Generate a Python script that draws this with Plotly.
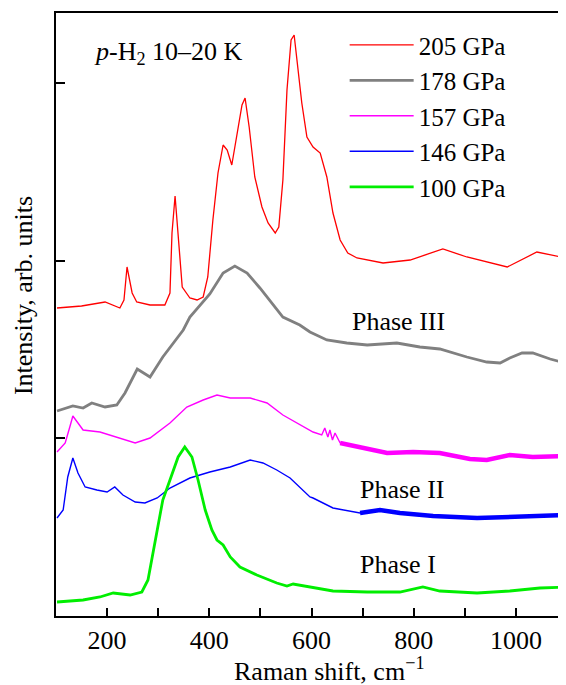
import plotly.graph_objects as go

FONT = "Liberation Serif"

# Raman shift (cm^-1) and offset intensity (arb. units)
x_205 = [102, 150, 196, 225, 233, 239, 249, 258, 284, 313, 323, 327, 333, 339, 347, 362, 376, 388, 397,
         407, 417, 427, 435, 444, 454, 464, 470, 478, 489, 503, 515, 529, 536, 544, 552,
         560, 566, 572, 581, 591, 603, 617, 630, 642, 656, 671, 689, 740, 793, 857, 904, 983, 1041, 1098]
y_205 = [308, 310, 314, 308, 316, 349, 323, 314, 311, 311, 323, 383, 420, 383, 329, 318, 316, 319, 339,
         396, 443, 471, 466, 451, 483, 511, 518, 489, 439, 409, 393, 383, 389, 436, 526,
         576, 581, 556, 513, 479, 469, 463, 439, 403, 376, 363, 358, 353, 356, 367, 359, 349, 364, 358]

x_178 = [102, 133, 153, 170, 196, 219, 235, 259, 284, 309, 349, 362, 401, 427, 450, 474, 499, 513, 544,
         577, 597, 630, 669, 709, 767, 812, 851, 904, 943, 969, 988, 1012, 1033, 1067, 1096]
y_178 = [205, 210, 208, 213, 209, 211, 223, 247, 239, 259, 286, 299, 322, 343, 350, 343, 328, 319, 299,
         291, 284, 276, 273, 271, 273, 269, 267, 259, 254, 253, 258, 263, 263, 257, 253]

x_157 = [102, 118, 127, 133, 143, 153, 186, 219, 255, 284, 323, 356, 388, 415, 441, 480, 513, 544, 572,
         603, 620, 626, 632, 636, 641, 646, 656, 689, 748, 799, 851, 910, 943, 988, 1033, 1096]
y_157 = [164, 173, 189, 200, 193, 186, 184, 179, 173, 178, 193, 209, 216, 221, 218, 218, 213, 201, 193,
         184, 181, 188, 179, 186, 176, 183, 173, 169, 163, 164, 163, 157, 156, 161, 159, 160]

x_146 = [102, 114, 123, 133, 143, 157, 180, 200, 215, 231, 255, 274, 298, 323, 362, 401, 441, 480, 505,
         532, 558, 583, 597, 603, 642, 695, 734, 773, 838, 924, 1002, 1096]
y_146 = [98, 106, 139, 158, 143, 129, 126, 124, 129, 121, 114, 113, 118, 128, 138, 144, 149, 156, 153,
         146, 138, 126, 119, 118, 108, 103, 106, 103, 100, 98, 99, 101]

x_100 = [102, 153, 186, 212, 245, 268, 280, 290, 300, 309, 323, 339, 352, 366, 378, 392, 405, 415,
         427, 441, 460, 493, 532, 552, 564, 597, 642, 709, 773, 818, 851, 924, 988, 1047, 1096]
y_100 = [14, 16, 19, 23, 21, 24, 36, 63, 93, 116, 136, 159, 169, 159, 136, 106, 86, 76,
         71, 59, 49, 41, 33, 30, 32, 29, 25, 24, 24, 29, 25, 23, 25, 28, 29]

series = [
    ("205 GPa", x_205, y_205, "#ff0000", 1.3, None),
    ("178 GPa", x_178, y_178, "#808080", 2.8, None),
    ("157 GPa", x_157, y_157, "#ff00ff", 1.4, 650),
    ("146 GPa", x_146, y_146, "#0000ff", 1.4, 660),
    ("100 GPa", x_100, y_100, "#00ee00", 2.8, None),
]

x_ticks = [200, 300, 400, 500, 600, 700, 800, 900, 1000]
x_tick_text = ["200", "", "400", "", "600", "", "800", "", "1000"]
y_ticks = [178, 355, 533]

fig = go.Figure()
for i, (name, xs, ys, color, w, thick_from) in enumerate(series):
    fig.add_trace(go.Scatter(x=xs, y=ys, mode="lines", name=name, legendgroup=name,
                             line=dict(color=color, width=w)))
    if thick_from is not None:
        xt = [a for a in xs if a >= thick_from]
        yt = [b for a, b in zip(xs, ys) if a >= thick_from]
        fig.add_trace(go.Scatter(x=xt, y=yt, mode="lines", showlegend=False, legendgroup=name,
                                 line=dict(color=color, width=4.5)))

# the page body has an 8 px margin, so the figure is drawn 8 px smaller and shifted
fig.update_layout(
    width=558, height=677,
    margin=dict(l=48, r=0, t=5, b=69, autoexpand=False),
    paper_bgcolor="white", plot_bgcolor="white",
    font=dict(family=FONT, size=26, color="black"),
    showlegend=True,
    legend=dict(x=0.566, y=0.985, xanchor="left", yanchor="top", bgcolor="rgba(0,0,0,0)",
                font=dict(family=FONT, size=25, color="black"), tracegroupgap=0,
                itemwidth=64),
    xaxis=dict(range=[100, 1098], tickmode="array", tickvals=x_ticks, ticktext=x_tick_text,
               ticks="inside", ticklen=8, tickwidth=1.5, tickcolor="black",
               showline=True, linewidth=2, linecolor="black", mirror=True,
               showgrid=False, zeroline=False, automargin=False,
               tickfont=dict(family=FONT, size=26, color="black")),
    yaxis=dict(range=[0, 603], tickmode="array", tickvals=y_ticks, showticklabels=False,
               ticks="inside", ticklen=9, tickwidth=1.5, tickcolor="black",
               showline=True, linewidth=2, linecolor="black", mirror=False,
               showgrid=False, zeroline=False, automargin=False),
    annotations=[
        dict(text="Raman shift, cm<sup>−1</sup>", xref="paper", yref="paper", x=0.537, y=-0.088,
             xanchor="center", yanchor="middle", showarrow=False, borderpad=0),
        dict(text="Intensity, arb. units", xref="paper", yref="paper", x=-0.065, y=0.532,
             xanchor="center", yanchor="middle", textangle=-90, showarrow=False),
        dict(text="<i>p</i>-H<sub>2</sub> 10–20 K", xref="paper", yref="paper", x=0.07, y=0.934,
             xanchor="left", yanchor="middle", showarrow=False),
        dict(text="Phase III", xref="paper", yref="paper", x=0.576, y=0.489,
             xanchor="left", yanchor="middle", showarrow=False),
        dict(text="Phase II", xref="paper", yref="paper", x=0.592, y=0.209,
             xanchor="left", yanchor="middle", showarrow=False),
        dict(text="Phase I", xref="paper", yref="paper", x=0.592, y=0.0846,
             xanchor="left", yanchor="middle", showarrow=False),
    ],
)

fig.write_html("out.html")
